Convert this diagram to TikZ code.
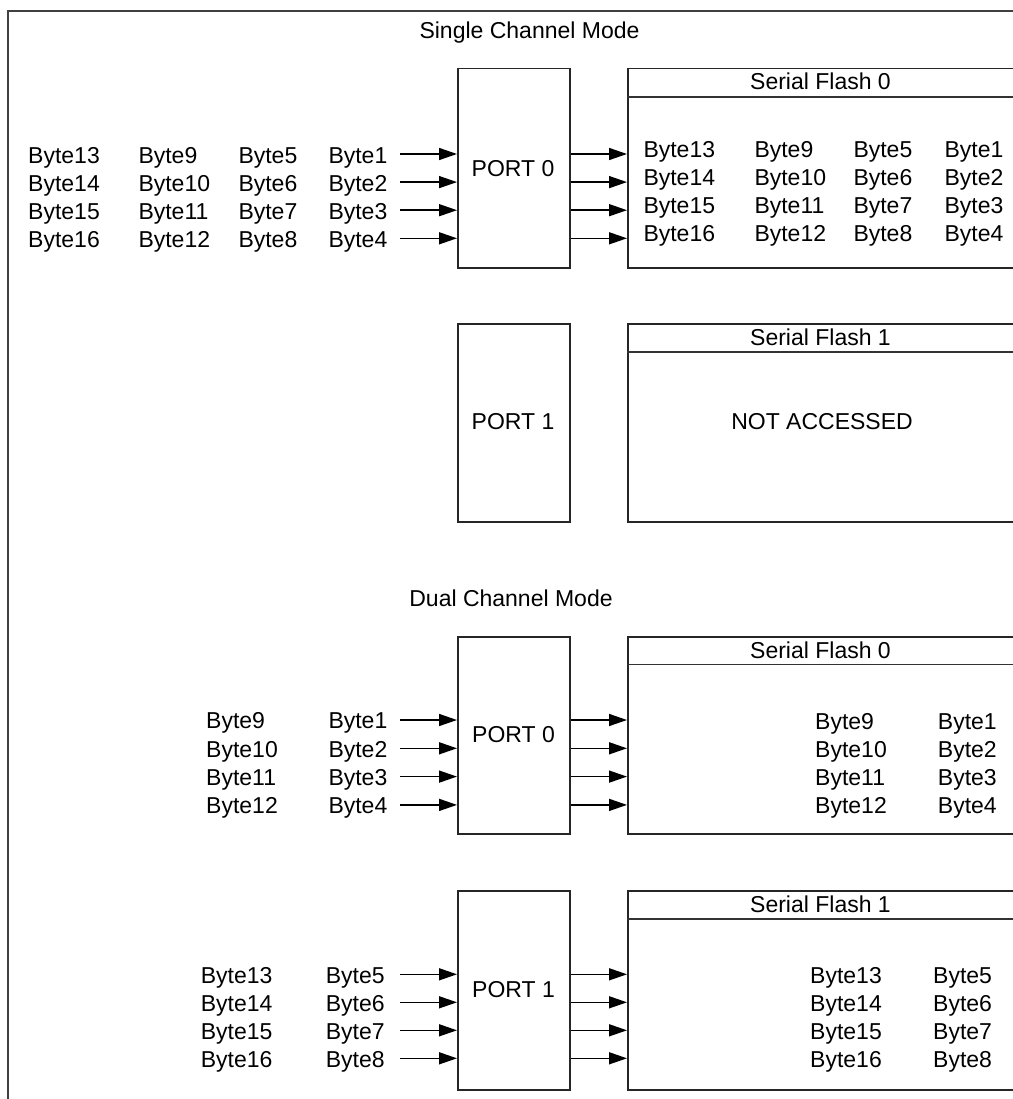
\documentclass[tikz,border=0pt]{standalone}
\usepackage{fontspec}
\setmainfont{Liberation Sans}
\usetikzlibrary{arrows.meta}
\begin{document}
\begin{tikzpicture}[x=1pt,y=-1pt,
  font=\fontsize{23}{27}\selectfont,
  frame/.style={draw=black!75, line width=2pt},
  box/.style={draw=black!85, line width=1.5pt, inner sep=0pt, anchor=north west},
  hdr/.style={draw=black!80, line width=1.5pt},
  lbl/.style={anchor=base west, inner sep=0pt},
  ctr/.style={anchor=base, inner sep=0pt},
  arr/.style={line width=1.5pt, -{Triangle[length=18pt,width=12pt]}}]
\useasboundingbox (0,0) rectangle (1012,1099);
% frame
\draw[frame] (1014,11.5) -- (7.5,11.5) -- (7.5,1101);

% ===== Single Channel Mode =====
\node[ctr] (t1) at (529.5,39) {Single Channel Mode};
\node[box, minimum width=112, minimum height=199] (p0) at (457,68) {};
\node[ctr] (p0t) at (513,177) {PORT 0};
\node[box, minimum width=388, minimum height=199] (f0) at (627,68) {};
\draw[hdr] ([yshift=-29pt]f0.north west) -- ([yshift=-29pt]f0.north east);
\node[ctr] (f0h) at (820.5,90) {Serial Flash 0};
\foreach \a/\b/\c/\d [count=\i] in {13/9/5/1,14/10/6/2,15/11/7/3,16/12/8/4}{
  \pgfmathsetmacro\yy{154+28.1*(\i-1)}
  \node[lbl] (sa\i) at (28,\yy+9.5) {Byte\a};
  \node[lbl] (sb\i) at (138.3,\yy+9.5) {Byte\b};
  \node[lbl] (sc\i) at (238.3,\yy+9.5) {Byte\c};
  \node[lbl] (sd\i) at (328.3,\yy+9.5) {Byte\d};
  \coordinate (sr\i) at (400,\yy);
  \draw[arr] (sr\i) -- (sr\i -| p0.west);
  \draw[arr] (sr\i -| p0.east) -- (sr\i -| f0.west);
  \node[lbl] (fa\i) at (643.3,\yy+3.5) {Byte\a};
  \node[lbl] (fb\i) at (754.3,\yy+3.5) {Byte\b};
  \node[lbl] (fc\i) at (853.3,\yy+3.5) {Byte\c};
  \node[lbl] (fd\i) at (944.3,\yy+3.5) {Byte\d};
}
\node[box, minimum width=112, minimum height=198] (p1) at (457,323) {};
\node[ctr] (p1t) at (513,429.5) {PORT 1};
\node[box, minimum width=388, minimum height=198] (f1) at (627,323) {};
\draw[hdr] ([yshift=-29pt]f1.north west) -- ([yshift=-29pt]f1.north east);
\node[ctr] (f1h) at (820.5,345) {Serial Flash 1};
\node[ctr] (na) at (822,429.5) {NOT ACCESSED};

% ===== Dual Channel Mode =====
\node[ctr] (t2) at (511,606) {Dual Channel Mode};
\node[box, minimum width=112, minimum height=197] (q0) at (457,636) {};
\node[ctr] (q0t) at (513.5,742.3) {PORT 0};
\node[box, minimum width=388, minimum height=197] (g0) at (627,636) {};
\draw[hdr] ([yshift=-28.5pt]g0.north west) -- ([yshift=-28.5pt]g0.north east);
\node[ctr] (g0h) at (820.5,658) {Serial Flash 0};
\foreach \a/\b [count=\i] in {9/1,10/2,11/3,12/4}{
  \pgfmathsetmacro\yy{720+28.3*(\i-1)}
  \node[lbl] (da\i) at (206,\yy+8.7) {Byte\a};
  \node[lbl] (db\i) at (328.3,\yy+8.7) {Byte\b};
  \coordinate (dr\i) at (400,\yy);
  \draw[arr] (dr\i) -- (dr\i -| q0.west);
  \draw[arr] (dr\i -| q0.east) -- (dr\i -| g0.west);
  \node[lbl] (ga\i) at (815,\yy+9) {Byte\a};
  \node[lbl] (gb\i) at (937.7,\yy+9) {Byte\b};
}
\node[box, minimum width=112, minimum height=199] (q1) at (457,890) {};
\node[ctr] (q1t) at (513.5,997.7) {PORT 1};
\node[box, minimum width=388, minimum height=199] (g1) at (627,890) {};
\draw[hdr] ([yshift=-29pt]g1.north west) -- ([yshift=-29pt]g1.north east);
\node[ctr] (g1h) at (820.5,912) {Serial Flash 1};
\foreach \a/\b [count=\i] in {13/5,14/6,15/7,16/8}{
  \pgfmathsetmacro\yy{974.3+28*(\i-1)}
  \node[lbl] (ea\i) at (200.7,\yy+9) {Byte\a};
  \node[lbl] (eb\i) at (325.7,\yy+9) {Byte\b};
  \coordinate (er\i) at (400,\yy);
  \draw[arr] (er\i) -- (er\i -| q1.west);
  \draw[arr] (er\i -| q1.east) -- (er\i -| g1.west);
  \node[lbl] (ha\i) at (810,\yy+9) {Byte\a};
  \node[lbl] (hb\i) at (933,\yy+9) {Byte\b};
}
\end{tikzpicture}
\end{document}
